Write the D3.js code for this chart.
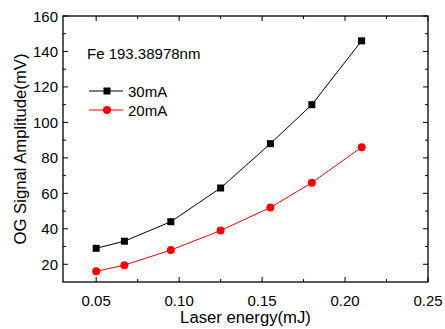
<!DOCTYPE html>
<html>
<head>
<meta charset="utf-8">
<script src="https://d3js.org/d3.v7.min.js"></script>
<style>
  body { margin: 0; background: #fff; }
  text { font-family: "Liberation Sans", Arial, sans-serif; fill: #000; }
</style>
</head>
<body>
<script>
// data
var energy = [0.05, 0.067, 0.095, 0.125, 0.155, 0.18, 0.21];
var amp30 = [29, 33, 44, 63, 88, 110, 146];
var amp20 = [16, 19.5, 28, 39, 52, 66, 86];
var xTicks = [0.05, 0.10, 0.15, 0.20, 0.25];
var yTicks = [20, 40, 60, 80, 100, 120, 140, 160];

var width = 445, height = 329;
var pLeft = 63, pRight = 428, pTop = 16, pBottom = 282;

var svg = d3.select('body').append('svg').attr('width', width).attr('height', height);

var x = d3.scaleLinear().domain([0.03, 0.25]).range([pLeft, pRight]);
var y = d3.scaleLinear().domain([10, 160]).range([pBottom, pTop]);

var xMinor = [0.075, 0.125, 0.175, 0.225];
var yMinor = [30, 50, 70, 90, 110, 130, 150];

// frame
svg.append('rect').attr('x', pLeft).attr('y', pTop).attr('width', pRight - pLeft).attr('height', pBottom - pTop)
    .attr('fill', 'none').attr('stroke', '#000').attr('stroke-width', 1.3);

function xticks(vals, len) {
    vals.forEach(function(v){
        svg.append('line').attr('x1', x(v)).attr('x2', x(v)).attr('y1', pBottom).attr('y2', pBottom - len).attr('stroke', '#000');
        svg.append('line').attr('x1', x(v)).attr('x2', x(v)).attr('y1', pTop).attr('y2', pTop + len).attr('stroke', '#000');
    });
}
function yticks(vals, len) {
    vals.forEach(function(v){
        svg.append('line').attr('y1', y(v)).attr('y2', y(v)).attr('x1', pLeft).attr('x2', pLeft + len).attr('stroke', '#000');
        svg.append('line').attr('y1', y(v)).attr('y2', y(v)).attr('x1', pRight).attr('x2', pRight - len).attr('stroke', '#000');
    });
}
xticks(xTicks, 5); xticks(xMinor, 3);
yticks(yTicks, 5); yticks(yMinor, 3);

svg.selectAll('.xl').data(xTicks).enter().append('text')
    .attr('x', function(d){return x(d)}).attr('y', pBottom + 24)
    .attr('text-anchor', 'middle').attr('font-size', 15).text(function(d){return d.toFixed(2)});
svg.selectAll('.yl').data(yTicks).enter().append('text')
    .attr('x', pLeft - 5).attr('y', function(d){return y(d) + 5.5})
    .attr('text-anchor', 'end').attr('font-size', 15).text(function(d){return d});

svg.append('text').attr('x', (pLeft + pRight) / 2).attr('y', 323).attr('text-anchor', 'middle')
    .attr('font-size', 16.7).text('Laser energy(mJ)');
svg.append('text').attr('transform', 'translate(25.5,' + ((pTop + pBottom) / 2) + ') rotate(-90)')
    .attr('text-anchor', 'middle').attr('font-size', 16.7).text('OG Signal Amplitude(mV)');

var line = d3.line().x(function(d){return x(d[0])}).y(function(d){return y(d[1])});
var s30 = d3.zip(energy, amp30), s20 = d3.zip(energy, amp20);

svg.append('path').attr('d', line(s30)).attr('fill', 'none').attr('stroke', '#000').attr('stroke-width', 1);
svg.append('path').attr('d', line(s20)).attr('fill', 'none').attr('stroke', '#ff0000').attr('stroke-width', 1);
svg.selectAll('.sq').data(s30).enter().append('rect')
    .attr('x', function(d){return x(d[0]) - 3.5}).attr('y', function(d){return y(d[1]) - 3.5})
    .attr('width', 7).attr('height', 7).attr('fill', '#000');
svg.selectAll('.ci').data(s20).enter().append('circle')
    .attr('cx', function(d){return x(d[0])}).attr('cy', function(d){return y(d[1])})
    .attr('r', 4).attr('fill', '#ff0000');

// legend
svg.append('text').attr('x', 87).attr('y', 58.5).attr('font-size', 15).text('Fe 193.38978nm');
svg.append('line').attr('x1', 89).attr('x2', 123).attr('y1', 91).attr('y2', 91).attr('stroke', '#000');
svg.append('rect').attr('x', 103.5).attr('y', 87.5).attr('width', 7).attr('height', 7).attr('fill', '#000');
svg.append('text').attr('x', 128).attr('y', 96.5).attr('font-size', 15).text('30mA');
svg.append('line').attr('x1', 89).attr('x2', 123).attr('y1', 110).attr('y2', 110).attr('stroke', '#ff0000');
svg.append('circle').attr('cx', 107).attr('cy', 110).attr('r', 4).attr('fill', '#ff0000');
svg.append('text').attr('x', 128).attr('y', 115.5).attr('font-size', 15).text('20mA');
</script>
</body>
</html>
